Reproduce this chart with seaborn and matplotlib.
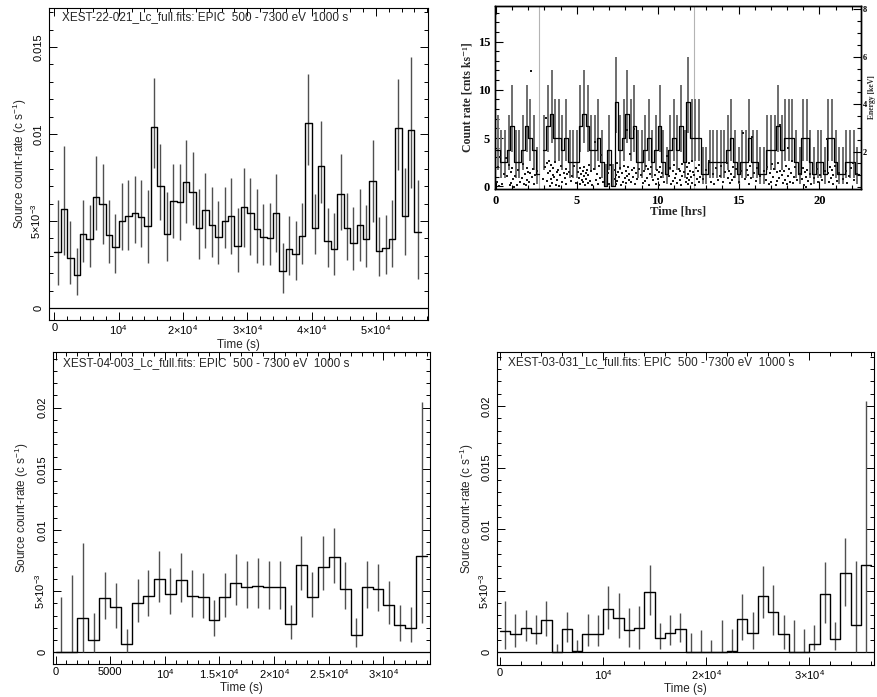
import numpy as np
import pandas as pd
import matplotlib
matplotlib.use("Agg")
import matplotlib.pyplot as plt
from matplotlib.ticker import FixedLocator, FixedFormatter, MultipleLocator
import seaborn as sns

sns.set_style("ticks")
plt.rcParams.update({
    "font.family": ["Liberation Sans", "DejaVu Sans"],
    "mathtext.fontset": "custom",
    "mathtext.rm": "Liberation Sans",
    "mathtext.it": "Liberation Sans:italic",
    "mathtext.bf": "Liberation Sans:bold",
    "axes.linewidth": 0.8,
    "axes.edgecolor": "black",
})

# ---------------- EPIC light curves, 1000 s bins (c/s) ----------------
BIN_S = 1000.0

x22_rate = [0.00323, 0.00567, 0.00288, 0.00187, 0.00425, 0.00396, 0.00637, 0.00596, 0.00419, 0.00348,
            0.00502, 0.00531, 0.00544, 0.00521, 0.00471, 0.01040, 0.00702, 0.00423, 0.00615, 0.00608,
            0.00723, 0.00665, 0.00458, 0.00563, 0.00477, 0.00406, 0.00500, 0.00529, 0.00358, 0.00579,
            0.00544, 0.00456, 0.00406, 0.00400, 0.00544, 0.00212, 0.00338, 0.00313, 0.00413, 0.01063,
            0.00462, 0.00817, 0.00387, 0.00338, 0.00656, 0.00458, 0.00371, 0.00477, 0.00396, 0.00727,
            0.00329, 0.00342, 0.00396, 0.01035, 0.00531, 0.01021, 0.00435]
x22_hi = [0.00621, 0.00933, 0.00502, 0.00342, 0.00621, 0.00592, 0.00871, 0.00829, 0.00621, 0.00540,
          0.00721, 0.00737, 0.00760, 0.00737, 0.00679, 0.01323, 0.00944, 0.00669, 0.00829, 0.00829,
          0.00967, 0.00894, 0.00683, 0.00775, 0.00698, 0.00612, 0.00698, 0.00746, 0.00573, 0.00804,
          0.00746, 0.00685, 0.00598, 0.00606, 0.00769, 0.00375, 0.00529, 0.00500, 0.00606, 0.01342,
          0.00654, 0.01073, 0.00573, 0.00544, 0.00887, 0.00660, 0.00583, 0.00685, 0.00592, 0.00967,
          0.00525, 0.00535, 0.00621, 0.01317, 0.00804, 0.01444, 0.00737]
x22_lo = [0.00131, 0.00304, 0.00137, 0.00077, 0.00265, 0.00237, 0.00448, 0.00370, 0.00260, 0.00202,
          0.00333, 0.00333, 0.00371, 0.00348, 0.00256, 0.00804, 0.00506, 0.00269, 0.00400, 0.00390,
          0.00487, 0.00477, 0.00279, 0.00342, 0.00294, 0.00250, 0.00342, 0.00313, 0.00208, 0.00352,
          0.00304, 0.00256, 0.00246, 0.00246, 0.00323, 0.00087, 0.00188, 0.00163, 0.00252, 0.00823,
          0.00308, 0.00602, 0.00237, 0.00188, 0.00448, 0.00275, 0.00221, 0.00271, 0.00237, 0.00496,
          0.00183, 0.00198, 0.00237, 0.00794, 0.00304, 0.00692, 0.00169]

x04_rate = [0.0, 0.0, 0.00281, 0.00101, 0.00445, 0.00369, 0.00066, 0.00400, 0.00464, 0.00600,
            0.00475, 0.00590, 0.00459, 0.00448, 0.00262, 0.00454, 0.00570, 0.00530, 0.00540, 0.00530,
            0.00530, 0.00230, 0.00710, 0.00450, 0.00700, 0.00780, 0.00520, 0.00145, 0.00530, 0.00520,
            0.00390, 0.00227, 0.00200, 0.00790]
x04_hi = [0.00448, 0.00630, 0.00890, 0.00325, 0.00660, 0.00570, 0.00190, 0.00600, 0.00675, 0.00830,
          0.00686, 0.00810, 0.00670, 0.00650, 0.00430, 0.00650, 0.00800, 0.00750, 0.00770, 0.00750,
          0.00750, 0.00390, 0.00950, 0.00660, 0.00950, 0.01020, 0.00740, 0.00280, 0.00750, 0.00720,
          0.00580, 0.00390, 0.00370, 0.02050]
x04_lo = [0.0, 0.0, 0.0, 0.0, 0.00270, 0.00200, 0.0, 0.00246, 0.00300, 0.00410,
          0.00314, 0.00410, 0.00290, 0.00280, 0.00137, 0.00290, 0.00390, 0.00360, 0.00360, 0.00350,
          0.00350, 0.00107, 0.00510, 0.00290, 0.00510, 0.00570, 0.00350, 0.00046, 0.00360, 0.00340,
          0.00230, 0.00096, 0.00085, 0.00240]

x03_rate = [0.00176, 0.00149, 0.00200, 0.00160, 0.00260, 0.0, 0.00187, 0.00010, 0.00149, 0.00149,
            0.00350, 0.00276, 0.00180, 0.00198, 0.00487, 0.00120, 0.00160, 0.00187, 0.0, 0.0,
            0.0, 0.0, 0.00013, 0.00270, 0.00160, 0.00460, 0.00330, 0.00146, 0.0, 0.0,
            0.00070, 0.00470, 0.00110, 0.00640, 0.00220, 0.00710]
x03_hi = [0.00420, 0.00310, 0.00340, 0.00300, 0.00420, 0.00065, 0.00330, 0.00100, 0.00310, 0.00300,
          0.00540, 0.00480, 0.00360, 0.00380, 0.00710, 0.00240, 0.00300, 0.00320, 0.00160, 0.00180,
          0.00100, 0.00260, 0.00190, 0.00470, 0.00330, 0.00700, 0.00550, 0.00300, 0.00260, 0.00190,
          0.00220, 0.00730, 0.00250, 0.00930, 0.00740, 0.02040]
x03_lo = [0.00027, 0.00046, 0.00095, 0.00065, 0.00135, 0.0, 0.00087, 0.0, 0.00050, 0.00050,
          0.00187, 0.00114, 0.00046, 0.00030, 0.00300, 0.00030, 0.00060, 0.00087, 0.0, 0.0,
          0.0, 0.0, 0.0, 0.00100, 0.00030, 0.00280, 0.00140, 0.00030, 0.0, 0.0,
          0.00020, 0.00240, 0.00020, 0.00380, 0.0, 0.0]

TITLE_22 = "XEST-22-021_Lc_full.fits: EPIC  500 - 7300 eV  1000 s"
TITLE_04 = "XEST-04-003_Lc_full.fits: EPIC  500 - 7300 eV  1000 s"
TITLE_03 = "XEST-03-031_Lc_full.fits: EPIC  500 - 7300 eV  1000 s"

# ---------------- binned count rate + photon energies (800 s bins) ----------------
TR_BIN_HR = 800.0 / 3600.0
NAN = float("nan")
tr_rate = [3.75, 2.5, 2.5, 3.75, 6.25, 2.5, 2.5, 3.75, 6.25, 5.0, 3.75, 1.25,
           NAN,
           3.75, 6.25, 7.5, 5.0, 5.0, 3.75, 5.0, 2.5, 2.5, 2.5, 6.25, 7.5, 6.25, 3.75, 3.75, 5.0, 2.5,
           0.0, 3.75, 0.0, 8.75, 3.75, 5.0, 7.5, 5.0, 6.25, 2.5,
           2.5, 3.75, 5.0, 2.5, 3.75, 6.25, 2.5, 1.25, 3.75, 5.0,
           3.75, 6.25, 2.5, 8.75, 5.0, 5.0, 5.0,
           1.25, 1.25, 2.5, 2.5, 2.5, 2.5, 2.5, 3.75, 5.0, 2.5,
           1.25, 2.5, 2.5, 5.0, 2.5, 2.5, 1.25, 1.25, 3.75, 3.75,
           3.75, 6.25, 3.75, 5.0, 5.0, 5.0, 2.5, 1.25, 5.0, 5.0,
           2.5, 1.25, 2.5, 2.5, 1.25, 5.0, 5.0, 2.5, 1.25, 1.25,
           2.5, 2.5, 2.5, 1.25]
# error-bar ends (cnts/ks) for each count-rate level
tr_bar_top = {0.0: 2.3, 1.25: 4.1, 2.5: 5.8, 3.75: 7.4, 5.0: 9.0, 6.25: 10.5, 7.5: 12.0, 8.75: 13.4}
tr_bar_bot = {0.0: 0.0, 1.25: 0.2, 2.5: 0.9, 3.75: 1.7, 5.0: 2.6, 6.25: 3.6, 7.5: 4.5, 8.75: 5.5}
gti_marks = [2.68, 12.27]

ph_t = [0.04, 0.11, 0.18, 0.27, 0.38, 0.50, 0.61, 0.70, 0.78, 0.86,
        0.91, 0.95, 1.00, 1.04, 1.09, 1.16, 1.27, 1.38, 1.49, 1.59, 1.66, 1.74,
        1.80, 1.85, 1.90, 1.94, 1.98, 2.03, 2.09, 2.16, 2.20, 2.26, 2.33, 2.40, 2.55,
        2.93, 3.02, 3.07, 3.13, 3.17, 3.22, 3.26, 3.31, 3.35, 3.39, 3.43, 3.47, 3.50, 3.54,
        3.59, 3.64, 3.69, 3.75, 3.80, 3.86, 3.91, 3.97, 4.04, 4.11, 4.18, 4.25, 4.30, 4.36, 4.41,
        4.50, 4.61, 4.72, 4.83, 4.95, 5.06, 5.13, 5.17, 5.22, 5.26, 5.31,
        5.35, 5.39, 5.43, 5.47, 5.51, 5.54, 5.58, 5.63, 5.67, 5.72, 5.76,
        5.82, 5.89, 5.96, 6.04, 6.11, 6.18, 6.25, 6.30, 6.36, 6.41, 6.50, 6.61,
        6.93, 7.00, 7.07, 7.34, 7.37, 7.40, 7.44, 7.47, 7.50, 7.54,
        7.60, 7.67, 7.74, 7.81, 7.86, 7.92, 7.97,
        8.02, 8.06, 8.09, 8.13, 8.16, 8.20, 8.25, 8.30, 8.36, 8.41,
        8.46, 8.51, 8.55, 8.60, 8.64, 8.72, 8.83, 8.95, 9.06, 9.15, 9.22, 9.29,
        9.36, 9.41, 9.47, 9.52, 9.61, 9.72, 9.82, 9.89, 9.96,
        10.02, 10.06, 10.11, 10.15, 10.20, 10.28, 10.39, 10.55,
        10.71, 10.78, 10.85, 10.92, 10.97, 11.03, 11.08, 11.15, 11.22, 11.29,
        11.35, 11.40, 11.44, 11.49, 11.53, 11.61, 11.72,
        11.79, 11.82, 11.86, 11.89, 11.92, 11.95, 11.98,
        12.03, 12.09, 12.14, 12.19, 12.25, 12.30, 12.36, 12.41, 12.47, 12.53, 12.58, 12.64,
        12.78, 13.00, 13.16, 13.27, 13.39, 13.50, 13.62, 13.72, 13.84, 13.94, 14.06, 14.16,
        14.26, 14.33, 14.40, 14.47, 14.52, 14.58, 14.63, 14.73, 14.83,
        15.00, 15.17, 15.27, 15.39, 15.50, 15.59, 15.64, 15.70, 15.75, 15.84, 15.94,
        16.06, 16.16, 16.33, 16.55, 16.71, 16.78, 16.85, 16.93, 17.00, 17.07, 17.15, 17.22, 17.29,
        17.35, 17.40, 17.44, 17.49, 17.53, 17.58, 17.66, 17.74,
        17.80, 17.86, 17.92, 17.97, 18.03, 18.08, 18.14, 18.19, 18.25, 18.30, 18.36, 18.41,
        18.50, 18.61, 18.78, 18.92, 18.97, 19.03, 19.08, 19.14, 19.19, 19.25, 19.30,
        19.39, 19.50, 19.67, 19.84, 19.94, 20.06, 20.16, 20.33,
        20.47, 20.52, 20.58, 20.63, 20.70, 20.75, 20.81, 20.86,
        20.95, 21.06, 21.22, 21.44, 21.62, 21.72, 21.84, 21.94, 22.06, 22.16, 22.33]
ph_e = [0.72, 1.35, 0.55, 1.78, 0.62, 1.05, 1.72, 0.95, 1.42, 0.58,
        1.12, 0.66, 1.30, 0.84, 0.52, 0.98, 0.60, 1.22, 0.72, 0.90, 1.48, 0.64,
        1.05, 0.58, 1.32, 0.80, 1.15, 0.70, 1.10, 5.38, 0.92, 1.26, 0.62, 1.02, 1.18,
        0.86, 1.34, 3.40, 1.52, 0.74, 1.08, 1.62, 0.56, 1.20, 0.84, 1.45, 0.66, 1.02, 1.30,
        0.94, 1.56, 0.60, 1.14, 0.78, 1.24, 0.55, 1.00, 1.38, 0.70, 1.10, 0.88, 1.28, 0.62, 1.05,
        1.15, 0.74, 0.96, 1.40, 0.68, 1.12, 0.90, 1.30, 0.62, 1.05, 0.80,
        1.18, 0.72, 0.98, 1.34, 0.60, 1.08, 0.84, 1.22, 0.66, 1.02, 1.44,
        0.76, 1.16, 0.58, 1.26, 2.42, 0.82, 1.06, 0.64, 1.38, 0.90, 1.85, 0.70,
        1.10, 0.62, 1.45, 0.86, 1.24, 0.64, 1.02, 1.50, 0.76, 1.14,
        0.94, 1.32, 0.60, 1.08, 0.72, 1.40, 0.88,
        1.20, 0.66, 2.90, 0.98, 1.36, 0.80, 1.04, 1.90, 0.70, 1.22,
        0.92, 1.30, 2.95, 0.62, 1.10, 0.84, 1.26, 1.02, 0.66, 1.18, 0.74, 1.40,
        0.90, 1.28, 0.60, 1.06, 1.34, 0.78, 1.00, 0.64, 1.22,
        0.86, 1.14, 0.58, 1.36, 0.94, 1.08, 0.70, 1.82,
        0.96, 1.30, 0.62, 1.16, 0.74, 1.42, 0.88, 1.04, 0.66, 1.26,
        0.82, 1.18, 0.60, 1.48, 0.96, 1.12, 0.72,
        0.90, 1.34, 0.64, 1.06, 1.52, 0.78, 1.20,
        0.94, 1.62, 0.68, 1.14, 1.02, 0.60, 1.30, 0.84, 1.18, 0.72, 1.44, 0.92,
        0.86, 1.24, 1.62, 0.70, 1.06, 0.64, 1.30, 0.80, 0.96, 1.40, 0.72, 1.12,
        1.50, 0.88, 1.20, 0.66, 1.04, 0.82, 1.36, 0.94, 1.28,
        0.70, 1.16, 2.77, 0.84, 1.22, 1.02, 0.62, 1.40, 0.90, 2.60, 1.10,
        0.74, 1.30, 0.96, 1.18, 0.80, 1.36, 0.64, 1.08, 0.70, 1.46, 0.92, 1.26, 0.60,
        1.14, 0.76, 1.52, 0.88, 1.20, 3.10, 1.02, 0.66,
        1.20, 0.82, 1.40, 0.62, 2.15, 0.96, 1.28, 0.70, 1.10, 1.62, 0.66, 0.92,
        1.34, 0.78, 1.06, 0.86, 1.30, 0.60, 1.14, 0.94, 0.52, 1.22, 0.74,
        1.04, 0.62, 0.88, 1.26, 0.70, 1.02, 0.80, 1.16,
        2.55, 1.08, 0.72, 1.34, 0.90, 1.24, 0.64, 1.02,
        1.40, 0.76, 1.10, 0.84, 1.20, 0.66, 0.96, 1.30, 1.50, 0.78, 1.04]

FIG_W, FIG_H = 877, 697
fig = plt.figure(figsize=(FIG_W / 100, FIG_H / 100), dpi=100)


def box(x0, y0, x1, y1):
    """Axes rectangle from pixel corners (top-left origin)."""
    return [x0 / FIG_W, 1 - y1 / FIG_H, (x1 - x0) / FIG_W, (y1 - y0) / FIG_H]


def sci(m, e):
    if m == 1:
        return r"$\mathregular{10^{%d}}$" % e
    return r"$\mathregular{%s{\times}10^{%d}}$" % (m, e)


def light_curve(ax, rate, hi, lo, binw):
    n = len(rate)
    edges = np.arange(n + 1) * binw
    centers = edges[:-1] + binw / 2
    df = pd.DataFrame({"t": edges, "rate": list(rate) + [rate[-1]]})
    ax.axhline(0, color="black", lw=0.9, zorder=1)
    ax.vlines(centers, lo, hi, color="#505050", lw=1.0, zorder=2)
    sns.lineplot(data=df, x="t", y="rate", drawstyle="steps-post", color="black",
                 linewidth=1.0, estimator=None, sort=False, ax=ax, zorder=3)


def pgplot_frame(ax, xlim, ylim, xmaj, xlab, xmin, ymaj, ylab, ymin, title,
                 title_xy, ylabel_x, xlabel_y):
    ax.set_xlim(*xlim)
    ax.set_ylim(*ylim)
    ax.xaxis.set_major_locator(FixedLocator(xmaj))
    ax.xaxis.set_major_formatter(FixedFormatter(xlab))
    ax.xaxis.set_minor_locator(MultipleLocator(xmin))
    ax.yaxis.set_major_locator(FixedLocator(ymaj))
    ax.yaxis.set_major_formatter(FixedFormatter(ylab))
    ax.yaxis.set_minor_locator(MultipleLocator(ymin))
    ax.tick_params(which="both", direction="in", top=True, right=True,
                   colors="black", labelsize=8, width=0.7)
    ax.tick_params(which="major", length=5.5)
    ax.tick_params(which="minor", length=2.8)
    ax.tick_params(axis="x", pad=2.5)
    ax.tick_params(axis="y", labelrotation=90, pad=4)
    plt.setp(ax.get_yticklabels(), va="center")
    ax.set_xlabel("Time (s)", fontsize=8.5, va="center")
    ax.set_ylabel(r"Source count-rate (c s$^{\mathregular{-1}}$)", fontsize=8.5, va="center")
    ax.yaxis.set_label_coords(ylabel_x, 0.5)
    ax.xaxis.set_label_coords(0.5, xlabel_y)
    ax.text(title_xy[0], title_xy[1], title, transform=ax.transAxes,
            fontsize=8.5, ha="left", va="center")
    for s in ax.spines.values():
        s.set_linewidth(0.8)


# ---- top left: XEST-22-021
ax_a = fig.add_axes(box(49, 8, 428, 320))
light_curve(ax_a, x22_rate, x22_hi, x22_lo, BIN_S)
pgplot_frame(ax_a, (-830, 58100), (-0.00069, 0.01724),
             [0, 1e4, 2e4, 3e4, 4e4, 5e4],
             ["0", sci(1, 4), sci(2, 4), sci(3, 4), sci(4, 4), sci(5, 4)], 2000,
             [0, 0.005, 0.01, 0.015], ["0", sci(5, -3), "0.01", "0.015"], 0.001,
             TITLE_22, (0.034, 0.972), -0.077, -0.080)

# ---- bottom left: XEST-04-003
ax_c = fig.add_axes(box(52.7, 352.3, 430, 664))
light_curve(ax_c, x04_rate, x04_hi, x04_lo, BIN_S)
pgplot_frame(ax_c, (-260, 34260), (-0.00096, 0.02453),
             [0, 5000, 1e4, 1.5e4, 2e4, 2.5e4, 3e4],
             ["0", "5000", sci(1, 4), sci(1.5, 4), sci(2, 4), sci(2.5, 4), sci(3, 4)], 1000,
             [0, 0.005, 0.01, 0.015, 0.02], ["0", sci(5, -3), "0.01", "0.015", "0.02"], 0.001,
             TITLE_04, (0.028, 0.967), -0.081, -0.078)

# ---- bottom right: XEST-03-031
ax_d = fig.add_axes(box(496.7, 352.3, 874.3, 665))
light_curve(ax_d, x03_rate, x03_hi, x03_lo, BIN_S)
pgplot_frame(ax_d, (-320, 36300), (-0.00103, 0.02436),
             [0, 1e4, 2e4, 3e4], ["0", sci(1, 4), sci(2, 4), sci(3, 4)], 2000,
             [0, 0.005, 0.01, 0.015, 0.02], ["0", sci(5, -3), "0.01", "0.015", "0.02"], 0.001,
             TITLE_03, (0.031, 0.970), -0.079, -0.076)

# ---- top right: binned count rate with photon energies
SERIF = ["Liberation Serif", "DejaVu Serif"]
ax_b = fig.add_axes(box(495, 6, 860.7, 189))
ax_b.set_xlim(-0.06, 22.55)
ax_b.set_ylim(-0.28, 18.68)
for t in gti_marks:
    ax_b.axvline(t, color="#b4b4b4", lw=0.8, zorder=1)

k = np.arange(len(tr_rate))
tr_left = k * TR_BIN_HR
tr_mid = tr_left + TR_BIN_HR / 2
valid = [i for i, r in enumerate(tr_rate) if not np.isnan(r)]
ax_b.vlines([tr_mid[i] for i in valid],
            [tr_bar_bot[tr_rate[i]] for i in valid],
            [tr_bar_top[tr_rate[i]] for i in valid],
            color="#6e6e6e", lw=1.4, zorder=2)

# step outline, broken where there is no exposure
rows = []
seg = 0
prev = None
for i, r in enumerate(tr_rate):
    if np.isnan(r):
        if prev is not None:
            rows.append((seg, tr_left[i], prev))
        seg += 1
        prev = None
        continue
    rows.append((seg, tr_left[i], r))
    prev = r
rows.append((seg, len(tr_rate) * TR_BIN_HR, prev))
df_tr = pd.DataFrame(rows, columns=["seg", "t", "rate"])
sns.lineplot(data=df_tr, x="t", y="rate", units="seg", estimator=None, sort=False,
             drawstyle="steps-post", color="black", linewidth=0.9, ax=ax_b, zorder=3)

ax_b.xaxis.set_major_locator(FixedLocator([0, 5, 10, 15, 20]))
ax_b.xaxis.set_minor_locator(MultipleLocator(1))
ax_b.yaxis.set_major_locator(FixedLocator([0, 5, 10, 15]))
ax_b.yaxis.set_minor_locator(MultipleLocator(1))
ax_b.tick_params(which="both", direction="in", top=True, right=False,
                 colors="black", labelsize=9, width=0.8)
ax_b.tick_params(which="major", length=6)
ax_b.tick_params(which="minor", length=3)
ax_b.tick_params(axis="x", pad=4.5)
ax_b.tick_params(axis="y", pad=3.5)
plt.setp(ax_b.get_xticklabels() + ax_b.get_yticklabels(), family=SERIF, weight="bold")
ax_b.set_xlabel("Time [hrs]", fontsize=9, family=SERIF, weight="bold", va="center")
ax_b.set_ylabel("Count rate [cnts ks\u207b\u00b9]", fontsize=8.5, family=SERIF,
                weight="bold", va="center")
ax_b.xaxis.set_label_coords(0.5, -0.124)
ax_b.yaxis.set_label_coords(-0.074, 0.5)

ax_e = ax_b.twinx()
ax_e.set_ylim(0.42, 8.14)
sns.scatterplot(x=ph_t, y=ph_e, ax=ax_e, s=2.2, color="#1a1a1a", marker="s",
                linewidth=0, zorder=4)
ax_e.yaxis.set_major_locator(FixedLocator([2, 4, 6, 8]))
ax_e.yaxis.set_minor_locator(MultipleLocator(0.5))
ax_e.tick_params(which="both", direction="in", right=True, left=False,
                 colors="black", labelsize=6, width=0.8, pad=1.5)
ax_e.tick_params(which="major", length=6)
ax_e.tick_params(which="minor", length=3)
plt.setp(ax_e.get_yticklabels(), family=SERIF, weight="bold")
ax_e.set_ylabel("Energy [keV]", fontsize=5.5, family=SERIF, weight="bold",
                rotation=90, va="center")
ax_e.yaxis.set_label_coords(1.031, 0.5)
for a in (ax_b, ax_e):
    for s in a.spines.values():
        s.set_linewidth(1.0)

fig.savefig("out.png", dpi=100)
